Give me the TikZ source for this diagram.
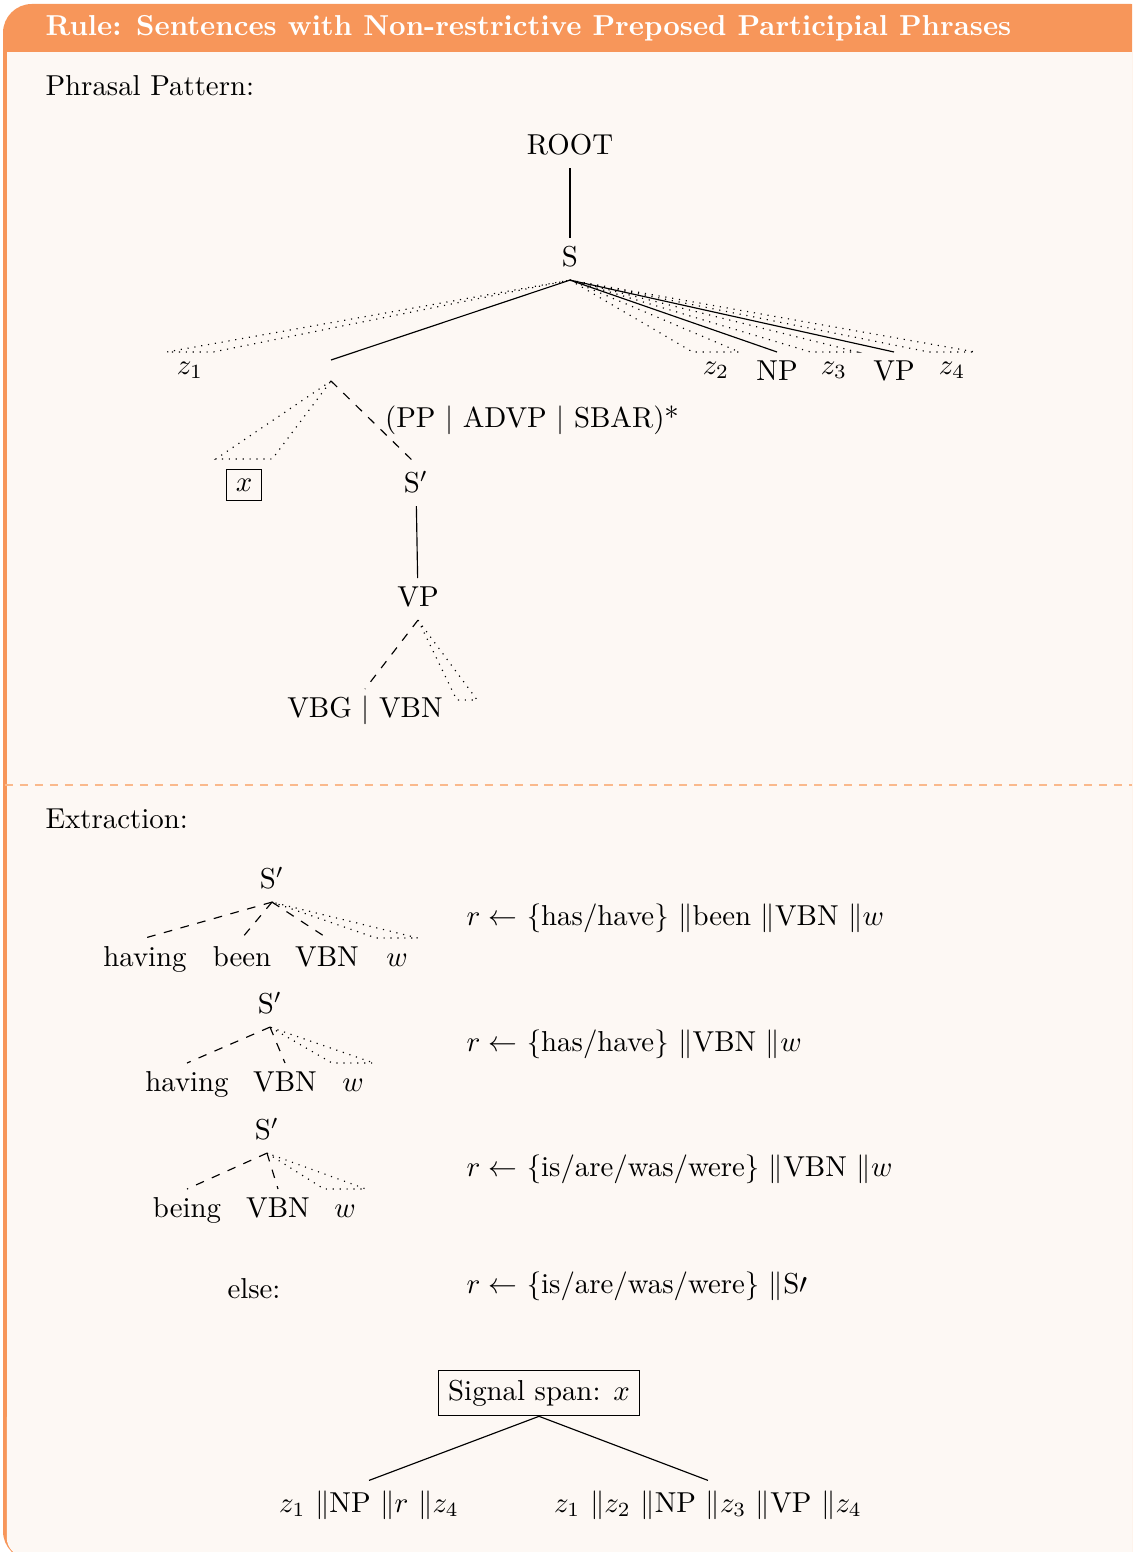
\documentclass[tikz,border=0pt]{standalone}
\usepackage{amsmath,amssymb}
\usepackage{tikz}
\definecolor{rulefrm}{RGB}{247,150,90}
\definecolor{rulebg}{RGB}{253,248,244}
\definecolor{rulesep}{RGB}{250,185,140}

\begin{document}
\begin{tikzpicture}[x=0.347pt,y=-0.347pt,
  tn/.style={anchor=north,text height=1.5ex,text depth=.25ex},
  zn/.style={anchor=north},
  roof/.style={dotted},
  lbl/.style={anchor=west,inner sep=0pt}]
\useasboundingbox (0,0) rectangle (1132,1552);
\clip (0,0) rectangle (1132,1552);
% frame
\fill[rulefrm,rounded corners=10] (3,4) rectangle (1160,1560);
\fill[rulebg] (6.8,52) rectangle (1156,1500);
\fill[rulebg,rounded corners=6.5] (6.8,1400) rectangle (1156,1556.5);
\draw[rulesep,line width=0.5pt,dash pattern=on 2.8pt off 2.4pt] (5,785) -- (1132,785);
\node[lbl,text=white,font=\bfseries] (title) at (45,28) {Rule: Sentences with Non-restrictive Preposed Participial Phrases};
\node[lbl] (phr) at (45,86) {Phrasal Pattern:};
\node[lbl] (ext) at (45,819) {Extraction:};
% pattern tree
\node[tn] (root) at (570,126) {ROOT};
\node[tn] (s) at (570,238) {S};
\foreach \n/\x/\t in {z1/190/$z_1$,z2/716/$z_2$,z3/834/$z_3$,z4/952/$z_4$}
  {\node[zn] (\n) at (\x,352) {\t};}
\node[tn] (np) at (777,352) {NP};
\node[tn] (vpt) at (894,352) {VP};
\coordinate (e) at (331,360);
\coordinate (eb) at (331,381);
\node[anchor=north] (x) at (244,459) {\fbox{$x$}};
\node (mods) at (532,420) {(PP $|$ ADVP $|$ SBAR)*};
\node[tn] (sp) at (416,464) {S$'$};
\node[tn] (vp) at (418,578) {VP};
\node[tn] (vbg) at (365,689) {VBG $|$ VBN};
\node[tn] (vpr) at (467,700) {};
\draw (root) -- (s);
\draw (s.south) -- (e);
\draw (s.south) -- (np.north);
\draw (s.south) -- (vpt.north);
\draw[roof] (eb) -- (x.north west) -- (x.north east) -- cycle;
\draw[dashed] (eb) -- (sp.north);
\draw (sp) -- (vp);
\draw[dashed] (vp.south) -- (vbg.north);
% extraction trees
\node[tn] (sa) at (272,860) {S$'$};
\foreach \n/\x/\t in {havA/145/having,beenA/242/been,vbnA/327/VBN,wA/397/$w$}
  {\node[tn] (\n) at (\x,938) {\t};}
\node[tn] (sb) at (270,985) {S$'$};
\foreach \n/\x/\t in {havB/187/having,vbnB/285/VBN,wB/353/$w$}
  {\node[tn] (\n) at (\x,1063) {\t};}
\node[tn] (sc) at (267,1111) {S$'$};
\foreach \n/\x/\t in {beingC/187/being,vbnC/278/VBN,wC/345/$w$}
  {\node[tn] (\n) at (\x,1189) {\t};}
\foreach \p/\n in {sa/havA,sa/beenA,sa/vbnA,sb/havB,sb/vbnB,sc/beingC,sc/vbnC}
  {\draw[dashed] (\p.south) -- (\n.north);}
\foreach \p/\n in {s/z1,s/z2,s/z3,s/z4,vp/vpr,sa/wA,sb/wB,sc/wC}
  {\draw[roof] (\p.south) -- (\n.north west) -- (\n.north east) -- cycle;}
% rules
\node[lbl] (ruleA) at (466,918) {$r \leftarrow$ \{has/have\} $\Vert$been $\Vert$VBN $\Vert w$};
\node[lbl] (ruleB) at (466,1044) {$r \leftarrow$ \{has/have\} $\Vert$VBN $\Vert w$};
\node[lbl] (ruleC) at (466,1169) {$r \leftarrow$ \{is/are/was/were\} $\Vert$VBN $\Vert w$};
\node[lbl] (ruleD) at (466,1286) {$r \leftarrow$ \{is/are/was/were\} $\Vert$S$\prime$};
\node (els) at (254,1289) {else:};
% output
\node[draw] (sig) at (539,1393) {Signal span: $x$};
\node (outA) at (369,1505) {$z_1$ $\Vert$NP $\Vert r$ $\Vert z_4$};
\node (outB) at (708,1505) {$z_1$ $\Vert z_2$ $\Vert$NP $\Vert z_3$ $\Vert$VP $\Vert z_4$};
\draw (sig.south) -- (outA.north);
\draw (sig.south) -- (outB.north);
\end{tikzpicture}
\end{document}
